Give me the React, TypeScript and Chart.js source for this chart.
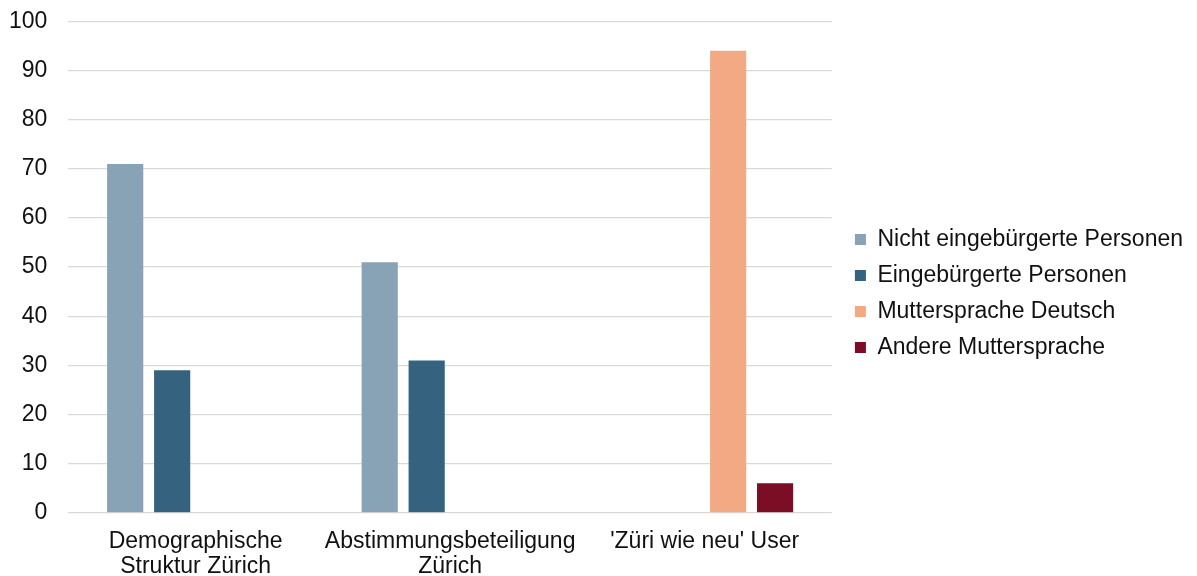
import React, { useEffect, useRef } from "react";
import { Chart, registerables } from "chart.js";

Chart.register(...registerables);

const categories: (string | string[])[] = [
  ["Demographische", "Struktur Zürich"],
  ["Abstimmungsbeteiligung", "Zürich"],
  "'Züri wie neu' User",
];
const seriesNames = [
  "Nicht eingebürgerte Personen",
  "Eingebürgerte Personen",
  "Muttersprache Deutsch",
  "Andere Muttersprache",
];
const nichtEingebuergert = [71, 51, null];
const eingebuergert = [29, 31, null];
const mutterspracheDeutsch = [null, null, 94];
const andereMuttersprache = [null, null, 6];
const seriesColors = ["#87a3b5", "#35627f", "#f4a985", "#7b0d24"];
const yTicks = [0, 10, 20, 30, 40, 50, 60, 70, 80, 90, 100];

const FONT = { family: "Liberation Sans", size: 23, lineHeight: 1.09 };

export default function App() {
  const ref = useRef<HTMLCanvasElement>(null);
  useEffect(() => {
    document.body.style.margin = "0";
    const values = [nichtEingebuergert, eingebuergert, mutterspracheDeutsch, andereMuttersprache];
    const chart = new Chart(ref.current!, {
      type: "bar",
      data: {
        labels: categories,
        datasets: values.map((v, i) => ({
          label: seriesNames[i],
          data: v,
          backgroundColor: seriesColors[i],
          borderWidth: 0,
          categoryPercentage: 0.738,
          barPercentage: 0.77,
        })),
      },
      options: {
        animation: false,
        responsive: true,
        maintainAspectRatio: false,
        layout: { padding: { top: 0, right: 4, left: -12, bottom: -11 } },
        plugins: {
          tooltip: { enabled: false },
          legend: {
            position: "right",
            align: "center",
            maxWidth: 500,
            labels: {
              font: FONT,
              color: "#111",
              boxWidth: 11,
              boxHeight: 11,
              padding: 13,
            },
          },
        },
        scales: {
          x: {
            grid: { display: false },
            border: { display: false },
            ticks: {
              font: FONT,
              color: "#111",
              maxRotation: 0,
              autoSkip: false,
              padding: 8,
            },
          },
          y: {
            min: 0,
            max: 100,
            afterBuildTicks: (axis: any) => {
              axis.ticks = yTicks.map((v) => ({ value: v }));
            },
            grid: { color: "#d9d9d9", lineWidth: 1.3, drawTicks: false },
            border: { display: false },
            ticks: {
              font: { family: "Liberation Sans", size: 23, lineHeight: 0.03 },
              color: "#111",
              padding: 21,
            },
          },
          gap: {
            type: "linear",
            position: "right",
            min: 0,
            max: 100,
            grid: { display: false, drawTicks: false },
            border: { display: false },
            ticks: { display: false },
            afterFit: (s: any) => {
              s.width = 10;
            },
          },
        },
      },
    });
    return () => chart.destroy();
  }, []);
  return (
    <div style={{ position: "fixed", left: 0, top: 0, width: 1197, height: 576, background: "#fff" }}>
      <canvas ref={ref} />
    </div>
  );
}
